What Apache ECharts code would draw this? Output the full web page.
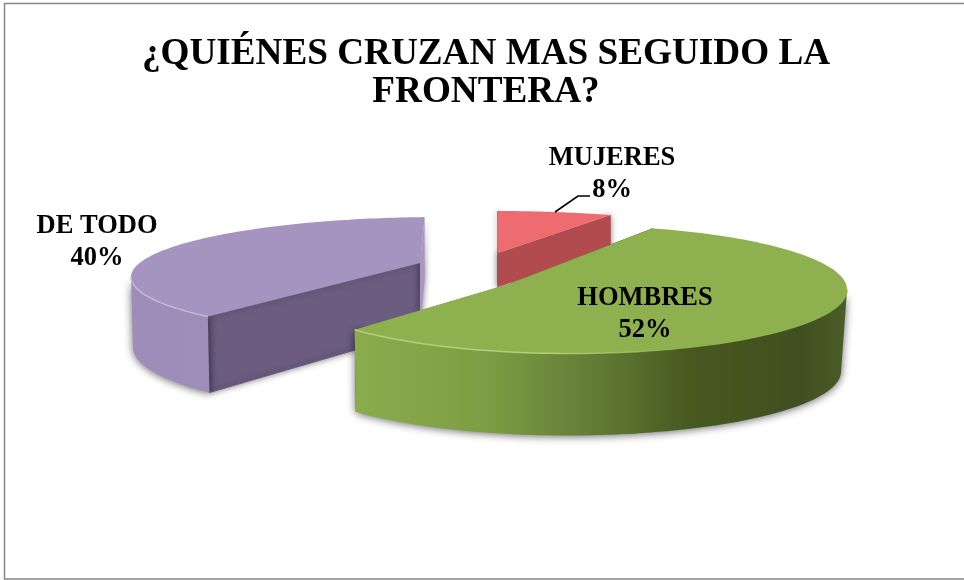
<!DOCTYPE html>
<html><head><meta charset="utf-8">
<style>html,body{margin:0;padding:0;background:#fff}#c{width:964px;height:580px}</style>
<script src="https://cdn.jsdelivr.net/npm/echarts@6/dist/echarts.min.js"></script>
</head><body><div id="c"></div>
<script>
// data
const categories = ['MUJERES', 'DE TODO', 'HOMBRES'];
const values = [8, 40, 52];
const titleText = '¿QUIÉNES CRUZAN MAS SEGUIDO LA\nFRONTERA?';

// layout of each exploded slice in the perspective view
const ellipses = [
  {cx:498, cy:271, rx:310, ry:60, ax:498, ay:253, sx:498, sy:211, d0:34, k:0,   taper:1, px:498},
  {cx:441, cy:277, rx:310, ry:60, ax:420, ay:263, sx:210, sy:316, d0:68, k:.15, taper:.993, px:420, y0:263},
  {cx:570, cy:289.5, rx:277, ry:64, ax:510, ay:283.7, sx:649, sy:230, d0:82, k:0, taper:.986, px:423}
];
const styles = [
  {top:'#EE6C70', startFace:'#A8484C', endFace:'#B24B50', faceShadow:true, wall:[[0,'#B24B50'],[1,'#B24B50']], rim:'#F59A9C'},
  {top:'#A594BF', startFace:'#6B5C80', endFace:'#A797C2', faceShadow:true, wall:[[0,'#9D8DB8'],[1,'#A292BC']], rim:'#C4B8D8'},
  {top:'#8EB04F', startFace:'#6C8A38', endFace:'#6C8A38', faceShadow:false,
   wall:[[0,'#8BAC4C'],[.106,'#8BAC4C'],[.34,'#7F9E45'],[.554,'#617A35'],[.717,'#47591F'],[.915,'#404F20'],[1,'#4B5D28']], rim:'#B4CF78'}
];
const labels = [
  {x:612, y:174},
  {x:97,  y:242},
  {x:645, y:314}
];

function projector(e){
  const nx=(e.ax-e.cx)/e.rx, ny=(e.ay-e.cy)/e.ry;
  const d=Math.hypot(nx,ny), phi=Math.atan2(ny,nx), c=Math.cos(phi), s=Math.sin(phi), q=Math.sqrt(1-d*d);
  const warp=(u,v,dd)=>{
    const a=u*c+v*s, b=-u*s+v*c, w=1+dd*a, X=(a+dd)/w, Y=b*q/w;
    return [X*c-Y*s, X*s+Y*c];
  };
  const fwd=(t)=>{const p=warp(Math.cos(t),Math.sin(t),d);return [e.cx+e.rx*p[0], e.cy+e.ry*p[1]];};
  const p0=warp((e.sx-e.cx)/e.rx,(e.sy-e.cy)/e.ry,-d);
  return {fwd, start:Math.atan2(p0[1],p0[0])};
}
function lower(e,p){
  const dep=e.d0+e.k*(p[1]-(e.y0||0));
  return [e.px+(p[0]-e.px)*e.taper, p[1]+dep];
}

function renderSlice(params, api){
  const i=params.dataIndex, e=ellipses[i], st=styles[i], value=api.value(1);
  const P=projector(e), span=value*3.6*Math.PI/180, n=120, arc=[];
  for(let j=0;j<=n;j++) arc.push(P.fwd(P.start+span*j/n));
  const apex=[e.ax,e.ay], a0=arc[0], a1=arc[n];
  const front=arc.filter(p=>p[1]>=e.cy-0.5);
  const kids=[], base=(i+1)*10;
  const fx=st.faceShadow?{shadowBlur:6,shadowColor:'rgba(0,0,0,.5)'}:{};
  const grad=new echarts.graphic.LinearGradient(e.cx-e.rx,0,e.cx+e.rx,0,st.wall.map(w=>({offset:w[0],color:w[1]})),true);
  kids.push({type:'polygon',z2:base,shape:{points:[apex,a0,lower(e,a0),lower(e,apex)]},
    style:Object.assign({fill:st.startFace,stroke:st.startFace,lineWidth:1},fx)});
  kids.push({type:'polygon',z2:base+1,shape:{points:[apex,a1,lower(e,a1),lower(e,apex)]},
    style:Object.assign({fill:st.endFace},fx)});
  if(front.length>1){
    const poly=front.concat(front.slice().reverse().map(p=>lower(e,p)));
    kids.push({type:'polygon',z2:base+2,shape:{points:poly},
      style:{fill:grad,shadowBlur:9,shadowColor:'rgba(0,0,0,.6)',shadowOffsetY:1}});
  }
  kids.push({type:'polygon',z2:base+3,shape:{points:[apex].concat(arc)},style:{fill:st.top}});
  if(front.length>1){
    kids.push({type:'polyline',z2:base+4,shape:{points:front},
      style:{fill:null,lineWidth:1.5,stroke:new echarts.graphic.LinearGradient(e.cx-e.rx,0,e.cx+e.rx,0,
        [{offset:0,color:st.rim},{offset:.45,color:st.rim},{offset:.7,color:st.top},{offset:1,color:st.top}],true)}});
  }
  const l=labels[i];
  kids.push({type:'text',z2:100,style:{x:l.x,y:l.y,text:api.value(0)+'\n'+value+'%',
    font:'bold 26.5px "Liberation Serif","Times New Roman",serif',lineHeight:32,fill:'#000',align:'center',verticalAlign:'middle'}});
  if(i===0){
    kids.push({type:'polyline',z2:99,shape:{points:[[555,212],[578,196],[590,196]]},style:{fill:null,stroke:'#000',lineWidth:1.6}});
  }
  return {type:'group',children:kids};
}

const chart=echarts.init(document.getElementById('c'),null,{renderer:'canvas'});
chart.setOption({
  animation:false,
  backgroundColor:'#fff',
  title:{text:titleText,left:481,top:30,textAlign:'center',
    textStyle:{fontFamily:'"Liberation Serif","Times New Roman",serif',fontWeight:'bold',fontSize:37.2,lineHeight:38,color:'#000'}},
  graphic:[{type:'rect',silent:true,shape:{x:4.5,y:3.5,width:975,height:575.5},style:{fill:null,stroke:'#868686',lineWidth:1.5}}],
  series:[{
    type:'custom',coordinateSystem:'none',
    data:categories.map((c,i)=>[c,values[i]]),
    encode:{},
    dimensions:[{name:'cat',type:'ordinal'},{name:'v',type:'number'}],
    renderItem:renderSlice
  }]
});
</script></body></html>
